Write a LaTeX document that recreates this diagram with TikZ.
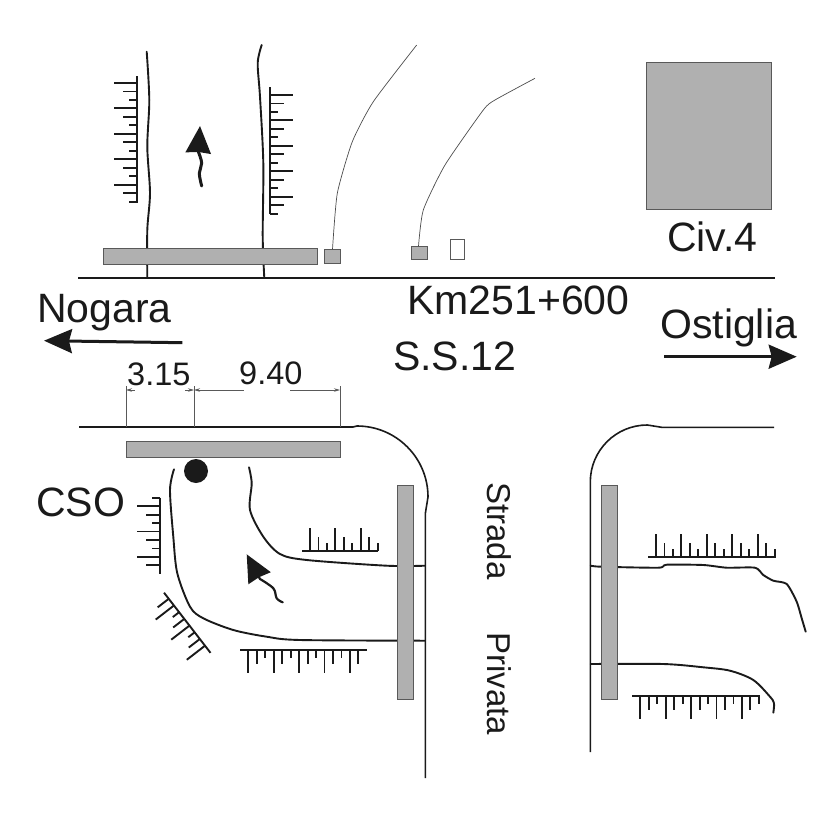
\documentclass[tikz,border=0pt]{standalone}
\usepackage{fontspec}
\setmainfont{Liberation Sans}
\usetikzlibrary{arrows.meta}
\definecolor{barfill}{HTML}{b0b0b0}
\definecolor{ink}{HTML}{1a1a1a}
\tikzstyle{road}=[draw=ink, line width=1.9pt, line cap=round]
\tikzstyle{edge}=[draw=ink, line width=1.6pt]
\tikzstyle{thin line}=[draw=black!70, line width=.7pt]
\tikzstyle{dim}=[draw=black!65, line width=.7pt]
\tikzstyle{dimtip}=[dim, {Stealth[length=6pt,width=3.5pt]}-]
\tikzstyle{ticks}=[draw=ink, line width=1.9pt]
\tikzstyle{bar}=[rectangle, draw=black!65, line width=.9pt, fill=barfill, inner sep=0pt]
\tikzstyle{big label}=[anchor=base west, inner sep=0pt, text=ink, font=\fontsize{41}{48}\selectfont]
\tikzstyle{dim label}=[anchor=base west, inner sep=0pt, text=ink, font=\fontsize{32.5}{38}\selectfont]
\tikzstyle{side label}=[anchor=base west, inner sep=0pt, rotate=-90, text=ink, font=\fontsize{33}{40}\selectfont]
\tikzstyle{heading}=[draw=ink, line width=3pt, -{Stealth[length=28pt,width=24pt,inset=3pt,fill=ink]}]
\tikzstyle{flow}=[draw=ink, line width=2.2pt, line cap=round, -{Stealth[length=27pt,width=25pt,inset=1pt,fill=ink]}]
% origin, rotation, side, first tick, last tick, spine from, spine to
\newcommand{\tickrow}[7]{%
  \begin{scope}[shift={#1},rotate=#2,yscale=#3]
    \draw [ticks] (#6,0) -- (#7,0);
    \foreach \i in {#4,...,#5}{
      \pgfmathtruncatemacro{\k}{mod(\i,3)}
      \ifcase\k\def\ticklen{23}\or\def\ticklen{14}\or\def\ticklen{8}\fi
      \draw [ticks] (\i*8.47,0) -- (\i*8.47,\ticklen);
    }
  \end{scope}}

\begin{document}
\begin{tikzpicture}[x=1pt,y=-1pt]
  \useasboundingbox (0,0) rectangle (827,827);

  % roads
  \coordinate (mainw) at (78,278);
  \coordinate (maine) at (775,278);
  \draw [edge] (mainw) -- (maine);
  \coordinate (southw) at (79,427);
  \coordinate (southe) at (774,427.3);
  \coordinate (priva) at (425.4,778);
  \coordinate (privb) at (590.3,752);
  \draw [edge] (southw) -- (353,427) -- (357,426) arc [start angle=90,end angle=0,radius=71pt] -- (425.4,513) -- (priva);
  \draw [edge] (privb) -- (590.3,482) arc [start angle=180,end angle=90,radius=57pt] -- (661.7,427.3) -- (southe);

  \draw [road] plot [smooth,tension=.5] coordinates {(146.7,51.7) (149.3,100) (147.3,146.7) (150,193) (147.3,230) (147.3,278)};
  \draw [road] plot [smooth,tension=.5] coordinates {(261.7,45) (257.7,63) (260,96.7) (263.3,163) (262.7,236.7) (264.3,278)};
  \draw [road] plot [smooth,tension=.5] coordinates {(174,469.3) (170,490) (173.3,536.7) (177.3,573.3) (190,606.7) (203.3,618.3) (233.3,630) (266.7,636.7) (300,640) (425,640.7)};
  \draw [road] plot [smooth,tension=.5] coordinates {(249,467.3) (251.7,483.3) (250,510) (263.3,536.7) (280,554) (306.7,560) (386.7,565.7) (425,565.7)};
  \draw [road] plot [smooth,tension=.4] coordinates {(590.7,565.7) (601,566.7) (658.3,567.7) (666.7,564.7) (703.3,565) (726.7,567.7) (755,567.7) (763.3,575) (773.3,580.7) (786.7,584) (796.7,601.7) (801.7,618.3) (805.7,631.7)};
  \draw [road] plot [smooth,tension=.5] coordinates {(590.7,664) (663.3,664) (703.3,667.3) (730,670.7) (753.3,680) (770,696.7) (774,703.3) (773.3,712.7)};

  % bars and buildings
  \node (bartop) [bar, minimum width=214pt, minimum height=16pt] at (210.5,256.3) {};
  \node (barbot) [bar, minimum width=214.5pt, minimum height=16pt] at (233.3,449.3) {};
  \node (barw) [bar, minimum width=16pt, minimum height=214.5pt] at (405.3,592.2) {};
  \node (bare) [bar, minimum width=16pt, minimum height=214.5pt] at (609,592.2) {};
  \node (sqa) [bar, minimum width=16pt, minimum height=13.7pt] at (332.8,256.2) {};
  \node (sqb) [bar, minimum width=16pt, minimum height=13.4pt] at (419.7,253) {};
  \node (sqc) [bar, fill=white, minimum width=14.7pt, minimum height=20pt] at (457.3,249) {};
  \node (civ) [bar, minimum width=125pt, minimum height=147pt] at (708.5,135.5) {};
  \node (dot) [circle, fill=ink, inner sep=0pt, minimum size=24pt] at (196,471) {};

  \coordinate (ra) at (416.7,45);
  \coordinate (rb) at (535,78.3);
  \draw [thin line] plot [smooth,tension=.35] coordinates {(332.5,249.3) (337.3,193.3) (352.3,141.7) (373.3,101.7) (416.7,45)};
  \draw [thin line] plot [smooth,tension=.35] coordinates {(418.5,246.3) (423.3,210) (445,165) (483.3,110) (495,100) (535,78.3)};

  % tick rows
  \tickrow{(137,83)}{-90}{1}{0}{14}{-7}{120}
  \tickrow{(270,95)}{-90}{-1}{0}{14}{-8}{119}
  \tickrow{(159.7,480.7)}{-90}{1}{2}{10}{17}{93.5}
  \tickrow{(205,645.7)}{127.7}{-1}{0}{7}{-9}{67}
  \tickrow{(248.3,650)}{0}{1}{0}{13}{-8}{118.7}
  \tickrow{(310,550.7)}{0}{-1}{0}{8}{-8}{68}
  \tickrow{(656,556.7)}{0}{-1}{0}{14}{-8}{120}
  \tickrow{(640.3,695.7)}{0}{1}{0}{14}{-8}{120}

  % dimensions
  \coordinate (da) at (126,427);
  \coordinate (db) at (194,427);
  \coordinate (dc) at (340,427);
  \coordinate (dat) at (126,386);
  \coordinate (dbt) at (194,386);
  \coordinate (dct) at (340,386);
  \draw [dim] (da) -- (dat);
  \draw [dim] (db) -- (dbt);
  \draw [dim] (dc) -- (dct);
  \coordinate (ma) at (126,390);
  \coordinate (mb) at (194,390);
  \coordinate (mc) at (340,390);
  \coordinate (ga) at (135,390);
  \coordinate (gb) at (185,390);
  \coordinate (gc) at (244,390);
  \coordinate (gd) at (290,390);
  \draw [dimtip] (ma) -- (ga);
  \draw [dimtip] (mb) -- (gb);
  \draw [dimtip] (mb) -- (gc);
  \draw [dimtip] (mc) -- (gd);

  % arrows
  \coordinate (noga) at (182.3,342.7);
  \coordinate (nogb) at (44,340.7);
  \coordinate (osta) at (664,356.7);
  \coordinate (ostb) at (796.7,356.7);
  \draw [heading] (noga) -- (nogb);
  \draw [heading] (osta) -- (ostb);
  \draw [flow, line width=3pt] plot [smooth,tension=.6] coordinates {(201.7,186) (199.3,173.3) (201.7,163) (198.3,151.7)} -- (200,126);
  \draw [flow] plot [smooth,tension=.6] coordinates {(282.7,602.3) (276.7,598.3) (273.3,588.3) (260,579)} -- (246.7,554.3);

  % labels
  \node (nogara) [big label] at (37,322) {Nogara};
  \node (ostiglia) [big label] at (660,338.3) {Ostiglia};
  \node (civlab) [big label] at (667,251.5) {Civ.4};
  \node (km) [big label] at (407,314) {Km251+600};
  \node (ss) [big label] at (393,370.5) {S.S.12};
  \node (cso) [big label] at (36,516) {CSO};
  \node (wa) [dim label] at (127,385) {3.15};
  \node (wb) [dim label] at (239,384) {9.40};
  \node (strada) [side label] at (487,482) {Strada};
  \node (privata) [side label] at (487,632) {Privata};
\end{tikzpicture}
\end{document}
